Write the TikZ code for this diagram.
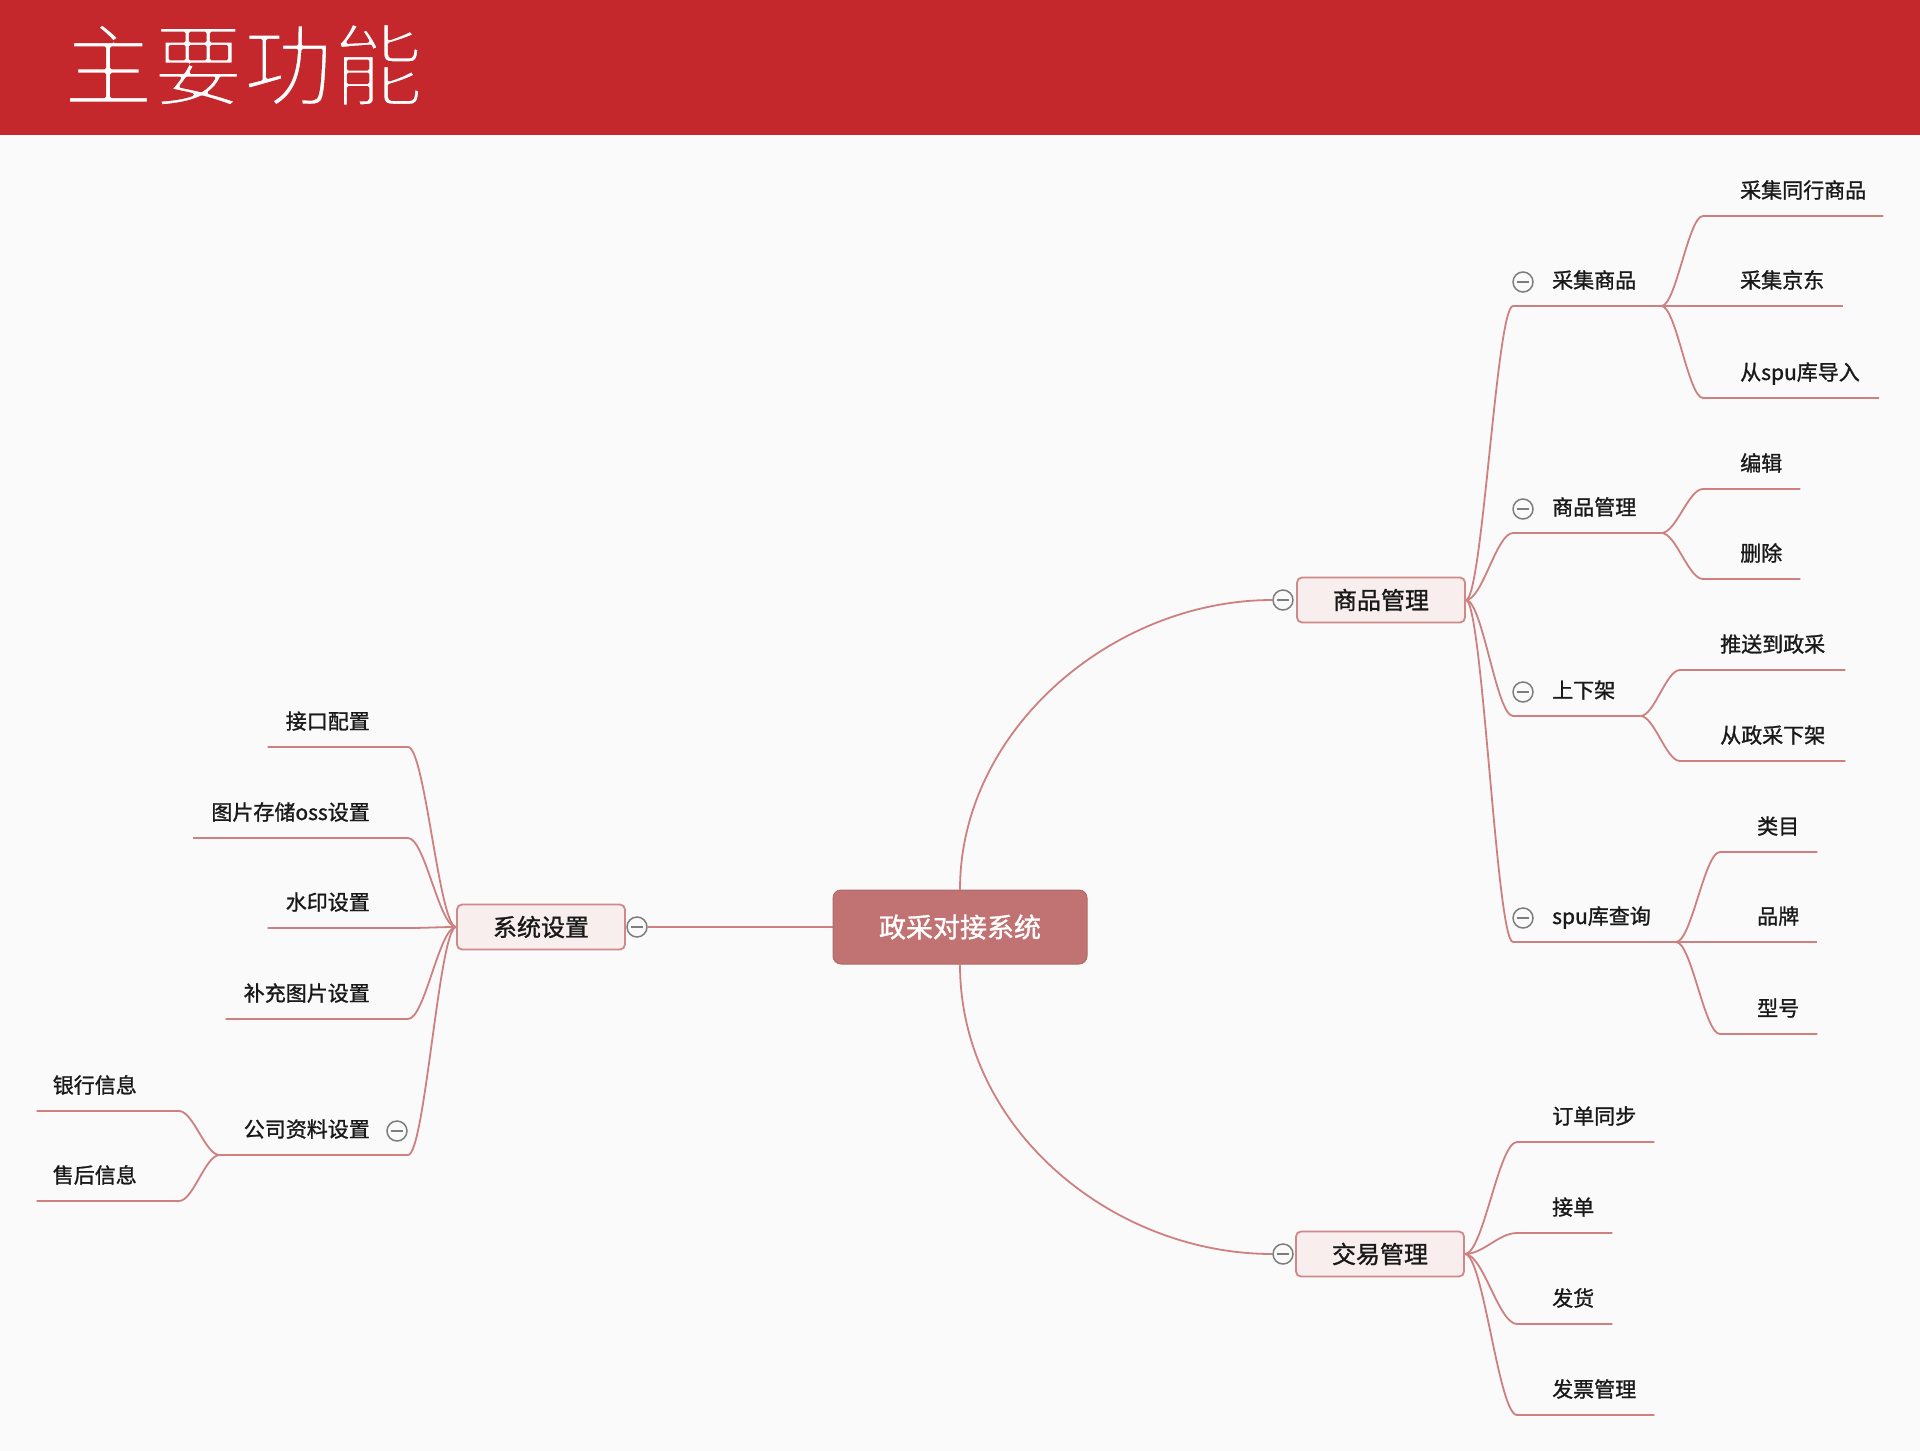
\documentclass[tikz,border=0pt]{standalone}
\usepackage{fontspec}
\setmainfont{Noto Sans CJK SC}
\newfontfamily\lblfont[FakeBold=1.2]{Noto Sans CJK SC}
\usetikzlibrary{calc}
\definecolor{bgc}{RGB}{250,250,250}
\definecolor{band}{RGB}{197,40,44}
\definecolor{rootc}{RGB}{193,114,114}
\definecolor{linkc}{RGB}{206,128,128}
\definecolor{lfill}{RGB}{248,238,238}
\definecolor{ldraw}{RGB}{208,136,136}
\definecolor{minc}{RGB}{125,125,125}
\definecolor{txt}{RGB}{25,25,25}
\pgfdeclarelayer{back}
\pgfdeclarelayer{links}
\pgfsetlayers{back,links,main}
\tikzset{
  link/.style={draw=linkc, line width=1.8pt},
  rootbox/.style={rectangle, rounded corners=8pt, fill=rootc, draw=rootc!92!black, line width=1pt,
    minimum width=254pt, minimum height=74pt, text=white, inner sep=0pt,
    font=\lblfont\fontsize{27pt}{30pt}\selectfont},
  lonebox/.style={rectangle, rounded corners=5pt, fill=lfill, draw=ldraw, line width=1.8pt,
    minimum width=168pt, minimum height=45pt, text=txt, inner sep=0pt,
    font=\lblfont\fontsize{24pt}{28pt}\selectfont},
  lbl/.style={inner sep=0pt, text=txt, font=\lblfont\fontsize{21pt}{25pt}\selectfont,
    text height=18.5pt, text depth=2.5pt},
  minus/.style={circle, draw=minc, line width=1.5pt, fill=bgc, minimum size=20pt, inner sep=0pt,
    path picture={\draw[minc, line width=1.5pt]
      ($(path picture bounding box.center)+(-6,0)$) -- ($(path picture bounding box.center)+(6,0)$);}},
}
% right-hand label: name, x, y, text, pad on connector side, pad on far side
\newcommand\rlab[6]{%
  \node[lbl, anchor=west] (#1) at (#2,#3) {#4};
  \coordinate (#1a) at ($(#1.west)+(-#5,26)$);
  \coordinate (#1b) at ($(#1.east)+(#6,26)$);}
% left-hand label: name, x, y, text, pad on connector side, pad on far side
\newcommand\llab[6]{%
  \node[lbl, anchor=east] (#1) at (#2,#3) {#4};
  \coordinate (#1a) at ($(#1.east)+(#5,26)$);
  \coordinate (#1b) at ($(#1.west)+(-#6,26)$);}
\newcommand\conn[2]{%
  \draw[link] (#1) .. controls ($(#1)!0.35!(#2a |- #1)$) and ($(#1 |- #2a)!0.65!(#2a)$) .. (#2a) -- (#2b);}

\begin{document}
\begin{tikzpicture}[x=1pt, y=-1pt]
\useasboundingbox (0,0) rectangle (1920,1451);
\begin{pgfonlayer}{back}
  \fill[bgc] (0,0) rectangle (1920,1451);
  \fill[band] (0,0) rectangle (1920,135);
\end{pgfonlayer}
\node[anchor=west, inner sep=0pt, text=white, font=\fontsize{90pt}{100pt}\selectfont,
  text height=79pt, text depth=11pt] (title) at (63,65)
  {\special{pdf:literal direct 2 Tr 0.773 0.157 0.173 RG 3.2 w 1 j}主要功能\special{pdf:literal direct 0 Tr}};

% central and first level
\node[rootbox] (root) at (960,927) {政采对接系统};
\node[lonebox] (gm) at (1381,600) {商品管理};
\node[lonebox] (jy) at (1380,1254) {交易管理};
\node[lonebox] (ss) at (541,927) {系统设置};
\node[minus] (gmm) at (1283,600) {};
\node[minus] (jym) at (1283,1254) {};
\node[minus] (ssm) at (637,927) {};

% second level, right
\rlab{c1}{1552}{280}{采集商品}{39}{25}
\rlab{c2}{1552}{507}{商品管理}{39}{25}
\rlab{c3}{1552}{690}{上下架}{39}{25}
\rlab{c4}{1552}{916}{spu库查询}{39}{25}
\node[minus] (c1m) at ($(c1.west)+(-29,2)$) {};
\node[minus] (c2m) at ($(c2.west)+(-29,2)$) {};
\node[minus] (c3m) at ($(c3.west)+(-29,2)$) {};
\node[minus] (c4m) at ($(c4.west)+(-29,2)$) {};

% third level, right
\rlab{d1}{1740}{190}{采集同行商品}{37}{17}
\rlab{d2}{1740}{280}{采集京东}{37}{19}
\rlab{d3}{1740}{372}{从spu库导入}{37}{19}
\rlab{d4}{1740}{463}{编辑}{37}{18}
\rlab{d5}{1740}{553}{删除}{37}{18}
\rlab{d6}{1720}{644}{推送到政采}{40}{20}
\rlab{d7}{1720}{735}{从政采下架}{40}{20}
\rlab{d8}{1757}{826}{类目}{37}{18}
\rlab{d9}{1757}{916}{品牌}{37}{18}
\rlab{d10}{1757}{1008}{型号}{37}{18}

\rlab{e1}{1552}{1116}{订单同步}{35}{18}
\rlab{e2}{1552}{1207}{接单}{35}{18}
\rlab{e3}{1552}{1298}{发货}{35}{18}
\rlab{e4}{1552}{1389}{发票管理}{35}{18}

% left side
\llab{f1}{370}{721}{接口配置}{38}{18}
\llab{f2}{370}{812}{图片存储oss设置}{38}{18}
\llab{f3}{370}{902}{水印设置}{38}{18}
\llab{f4}{370}{993}{补充图片设置}{38}{18}
\llab{f5}{370}{1129}{公司资料设置}{38}{24}
\node[minus] (f5m) at ($(f5.east)+(27,2)$) {};
\llab{g1}{137}{1085}{银行信息}{42}{16}
\llab{g2}{137}{1175}{售后信息}{42}{16}

\begin{pgfonlayer}{links}
  \draw[link] (root.west) -- (ssm);
  \draw[link] (root.north) .. controls ($(root.north)+(0,-160)$) and ($(gmm)+(-170,0)$) .. (gmm);
  \draw[link] (root.south) .. controls ($(root.south)+(0,165)$) and ($(jym)+(-170,0)$) .. (jym);
  \conn{gm.east}{c1}\conn{gm.east}{c2}\conn{gm.east}{c3}\conn{gm.east}{c4}
  \conn{c1b}{d1}\conn{c1b}{d2}\conn{c1b}{d3}
  \conn{c2b}{d4}\conn{c2b}{d5}
  \conn{c3b}{d6}\conn{c3b}{d7}
  \conn{c4b}{d8}\conn{c4b}{d9}\conn{c4b}{d10}
  \conn{jy.east}{e1}\conn{jy.east}{e2}\conn{jy.east}{e3}\conn{jy.east}{e4}
  \conn{ss.west}{f1}\conn{ss.west}{f2}\conn{ss.west}{f3}\conn{ss.west}{f4}\conn{ss.west}{f5}
  \conn{f5b}{g1}\conn{f5b}{g2}
\end{pgfonlayer}
\end{tikzpicture}
\end{document}
